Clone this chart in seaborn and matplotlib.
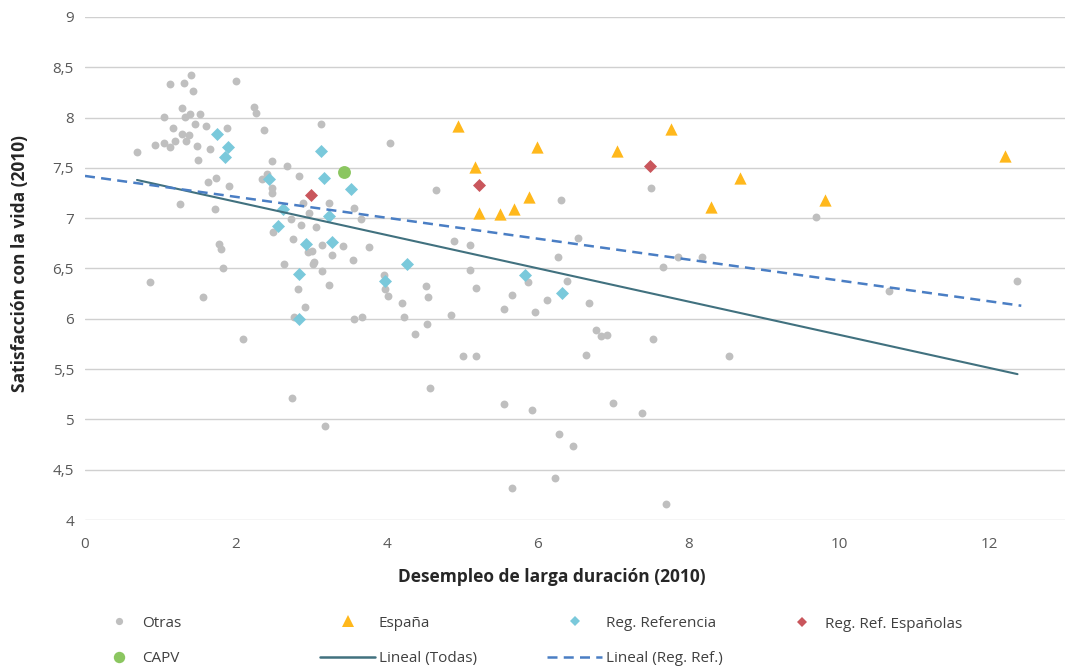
import numpy as np
import pandas as pd
import matplotlib.pyplot as plt
import seaborn as sns
from matplotlib.lines import Line2D
from matplotlib.ticker import FuncFormatter, MultipleLocator

# Otras (gray dots)
otras_x = [0.69, 0.93, 1.05, 1.13, 1.05, 1.13, 1.31, 1.41, 1.43, 1.29, 1.33, 1.39, 1.53, 1.17, 1.29,
           1.38, 1.19, 1.34, 1.46, 1.61, 1.89, 1.49, 1.66, 1.50, 2.00, 2.24, 2.27, 2.38, 2.48, 1.63,
           1.74, 1.91, 1.26, 1.73, 2.35, 2.42, 2.48, 2.48, 2.50, 1.78, 1.81, 2.64, 1.83, 0.86, 1.57,
           2.10, 3.13, 4.04, 2.68, 2.84, 2.89, 3.24, 2.97, 3.57, 3.66, 2.73, 2.87, 3.07, 2.76, 3.15,
           3.42, 3.77, 2.96, 3.01, 3.28, 3.56, 3.04, 3.03, 3.15, 3.24, 2.83, 3.96, 3.98, 4.02, 4.53,
           4.55, 4.66, 2.92, 2.77, 3.57, 3.68, 4.21, 4.23, 4.54, 4.38, 4.85, 2.75, 4.57, 3.19, 6.31,
           4.90, 5.11, 6.54, 6.28, 5.11, 5.19, 5.87, 6.40, 5.66, 6.13, 6.69, 5.56, 5.97, 6.78, 6.85,
           6.93, 5.02, 5.19, 6.64, 5.56, 5.93, 7.01, 6.29, 6.48, 6.23, 5.66, 7.51, 7.86, 8.19, 7.67,
           9.70, 7.54, 8.54, 7.39, 7.71, 10.66, 12.36]
otras_y = [7.66, 7.73, 7.75, 7.71, 8.01, 8.33, 8.34, 8.42, 8.26, 8.10, 8.01, 8.04, 8.04, 7.90, 7.84,
           7.83, 7.77, 7.77, 7.94, 7.92, 7.90, 7.72, 7.69, 7.58, 8.36, 8.11, 8.05, 7.88, 7.57, 7.36,
           7.40, 7.32, 7.14, 7.09, 7.39, 7.44, 7.30, 7.25, 6.86, 6.74, 6.69, 6.54, 6.50, 6.37, 6.22,
           5.80, 7.94, 7.75, 7.52, 7.42, 7.15, 7.15, 7.05, 7.10, 6.99, 6.99, 6.93, 6.91, 6.79, 6.73,
           6.72, 6.71, 6.66, 6.67, 6.63, 6.58, 6.56, 6.54, 6.48, 6.34, 6.30, 6.44, 6.30, 6.23, 6.33,
           6.22, 7.28, 6.12, 6.02, 6.00, 6.02, 6.16, 6.02, 5.95, 5.85, 6.04, 5.21, 5.31, 4.93, 7.18,
           6.77, 6.73, 6.80, 6.61, 6.49, 6.31, 6.37, 6.38, 6.24, 6.19, 6.16, 6.10, 6.07, 5.89, 5.83,
           5.84, 5.63, 5.63, 5.64, 5.15, 5.09, 5.16, 4.85, 4.74, 4.42, 4.32, 7.30, 6.61, 6.61, 6.51,
           7.01, 5.80, 5.63, 5.06, 4.16, 6.28, 6.38]

espana_x = [4.95, 5.99, 5.18, 5.89, 5.23, 5.50, 5.69, 7.06, 7.78, 8.31, 8.69, 9.81, 12.21]
espana_y = [7.92, 7.71, 7.51, 7.21, 7.05, 7.04, 7.09, 7.67, 7.89, 7.11, 7.40, 7.18, 7.62]

regref_x = [1.75, 1.90, 1.86, 2.44, 2.62, 2.56, 3.13, 3.17, 3.53, 3.24, 2.93, 3.27, 4.27, 2.84,
            3.98, 2.84, 5.84, 6.33]
regref_y = [7.84, 7.71, 7.61, 7.39, 7.09, 6.92, 7.67, 7.40, 7.29, 7.02, 6.74, 6.76, 6.54, 6.45,
            6.38, 6.00, 6.44, 6.26]

regref_esp_x = [3.00, 5.23, 7.49]
regref_esp_y = [7.23, 7.33, 7.52]

capv_x = [3.44]
capv_y = [7.46]

# trend lines
todas_x = [0.69, 12.37]
todas_y = [7.38, 5.45]
refs_x = [0.0, 12.42]
refs_y = [7.42, 6.13]

C_GRAY = '#bfbfbf'
C_ESP = '#ffb81c'
C_REF = '#7ac9db'
C_RES = '#c9565c'
C_CAPV = '#8bc660'
C_TODAS = '#41717f'
C_REFS = '#4a7ec4'

sns.set_style('white')
plt.rcParams['font.family'] = ['Open Sans', 'DejaVu Sans']

fig = plt.figure(figsize=(10.7, 6.66), dpi=100)
ax = fig.add_axes([85 / 1070, 1 - 520 / 666, 980 / 1070, 503 / 666])

sns.scatterplot(x=otras_x, y=otras_y, color=C_GRAY, s=32, marker='o', linewidth=0, ax=ax, zorder=2)
sns.scatterplot(x=espana_x, y=espana_y, color=C_ESP, s=78, marker='^', linewidth=0, ax=ax, zorder=3)
sns.scatterplot(x=regref_x, y=regref_y, color=C_REF, s=44, marker='D', linewidth=0, ax=ax, zorder=3)
sns.scatterplot(x=regref_esp_x, y=regref_esp_y, color=C_RES, s=44, marker='D', linewidth=0, ax=ax, zorder=3)
sns.scatterplot(x=capv_x, y=capv_y, color=C_CAPV, s=86, marker='o', linewidth=0, ax=ax, zorder=3)

sns.lineplot(x=todas_x, y=todas_y, color=C_TODAS, lw=1.5, ax=ax, zorder=4)
ax.plot(refs_x, refs_y, color=C_REFS, lw=1.8, dashes=(4, 2.5), zorder=4)

ax.set_xlim(0, 13)
ax.set_ylim(4, 9)
ax.xaxis.set_major_locator(MultipleLocator(2))
ax.yaxis.set_major_locator(MultipleLocator(0.5))
ax.xaxis.set_major_formatter(FuncFormatter(lambda v, p: f'{v:g}' if v <= 12 else ''))
ax.yaxis.set_major_formatter(FuncFormatter(lambda v, p: f'{v:g}'.replace('.', ',')))
ax.grid(axis='y', color='#d0d0d0', lw=1.0)
ax.grid(axis='x', visible=False)
for s in ax.spines.values():
    s.set_visible(False)
ax.tick_params(axis='both', length=0, labelsize=11, labelcolor='#595959')
ax.tick_params(axis='x', pad=12)
ax.tick_params(axis='y', pad=8)

ax.set_xlabel('Desempleo de larga duración (2010)', fontsize=12.5, fontweight='bold', color='#262626')
ax.set_ylabel('Satisfacción con la vida (2010)', fontsize=12.5, fontweight='bold', color='#262626')
ax.xaxis.set_label_coords((552 - 85) / 980, (520 - 577) / 503)
ax.xaxis.label.set_va('center')
ax.yaxis.set_label_coords((20 - 85) / 980, 0.51)
ax.yaxis.label.set_va('center')

# legend, one block per column
def mk(color, marker, ms):
    return Line2D([], [], color=color, marker=marker, markersize=ms, linestyle='none', markeredgewidth=0)

cols = [
    ([mk(C_GRAY, 'o', 5.2), mk(C_CAPV, 'o', 8.2)], ['Otras', 'CAPV'], 101, 2.4, 0.3, 641),
    ([mk(C_ESP, '^', 8), Line2D([], [], color=C_TODAS, lw=1.8)], ['España', 'Lineal (Todas)'], 320, 3.6, 0.26, 641),
    ([mk(C_REF, 'D', 5.2), Line2D([], [], color=C_REFS, lw=1.8, dashes=(4, 2.5))],
     ['Reg. Referencia', 'Lineal (Reg. Ref.)'], 547, 3.6, 0.26, 641),
    ([mk(C_RES, 'D', 5.2)], ['Reg. Ref. Españolas'], 784, 2.4, 0.3, 624),
]
for handles, labels, xpx, hl, tp, ypx in cols:
    fig.legend(handles, labels, loc='center left', bbox_to_anchor=(xpx / 1070, 1 - ypx / 666),
               frameon=False, fontsize=11, handlelength=hl, handletextpad=tp,
               borderpad=0, borderaxespad=0, labelspacing=1.35, labelcolor='#404040')

fig.savefig('out.png', dpi=100)
